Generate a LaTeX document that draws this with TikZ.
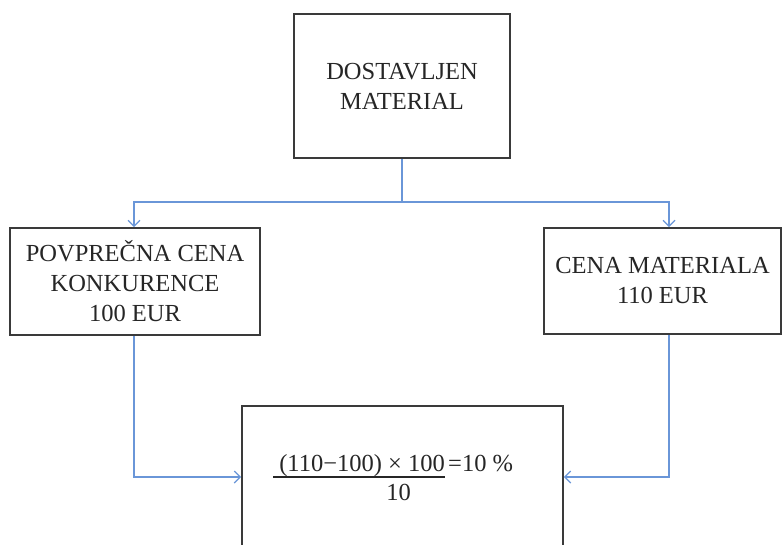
\documentclass[tikz,border=0pt]{standalone}
\usepackage{fontspec}
\setmainfont{Liberation Serif}
\usetikzlibrary{arrows.meta}
\definecolor{boxline}{HTML}{3A3A3A}
\definecolor{conblue}{HTML}{6A96D8}
\begin{document}
\begin{tikzpicture}[x=1pt,y=-1pt,
  box/.style={draw=boxline,line width=1.8pt,inner sep=0pt,align=center,
    font=\fontsize{24.5}{30}\selectfont,text=black!85},
  conn/.style={draw=conblue,line width=1.5pt},
  arr/.style={conn,-{Straight Barb[length=6pt,width=12pt,line width=1.2pt]}},
  ftext/.style={inner sep=0pt,font=\fontsize{24.5}{30}\selectfont,text=black!85}]
\clip (0,0) rectangle (782,544);
\useasboundingbox (0,0) rectangle (782,544);
\fill[white] (0,0) rectangle (782,544);

\node[box,minimum width=216pt,minimum height=144pt] (top) at (402,86) {DOSTAVLJEN\\MATERIAL};
\node[box,minimum width=250pt,minimum height=107pt] (left) at (135,281.5) {POVPREČNA CENA\\KONKURENCE\\100 EUR};
\node[box,minimum width=237pt,minimum height=106pt] (right) at (662.5,281) {CENA MATERIALA\\110 EUR};
\node[box,minimum width=321pt,minimum height=142pt] (res) at (402.5,477) {};

\coordinate (j) at (402,202);
\draw[conn] (top.south) -- (j);
\draw[arr] (j) -| ([xshift=-1pt]left.north);
\draw[arr] (j) -| ([xshift=6.5pt]right.north);
\draw[arr] ([xshift=-1pt]left.south) |- (res.west);
\draw[arr] ([xshift=6.5pt]right.south) |- (res.east);

\node[ftext,anchor=base east] (num) at (445,471) {(110−100) × 100};
\node[ftext,anchor=base west] (eq) at (448,471) {=10 \%};
\node[ftext,anchor=base] (den) at (398.5,500) {10};
\coordinate (fl1) at (273,477);
\coordinate (fl2) at (445,477);
\draw[line width=1.5pt,black!85] (fl1) -- (fl2);
\end{tikzpicture}
\end{document}
